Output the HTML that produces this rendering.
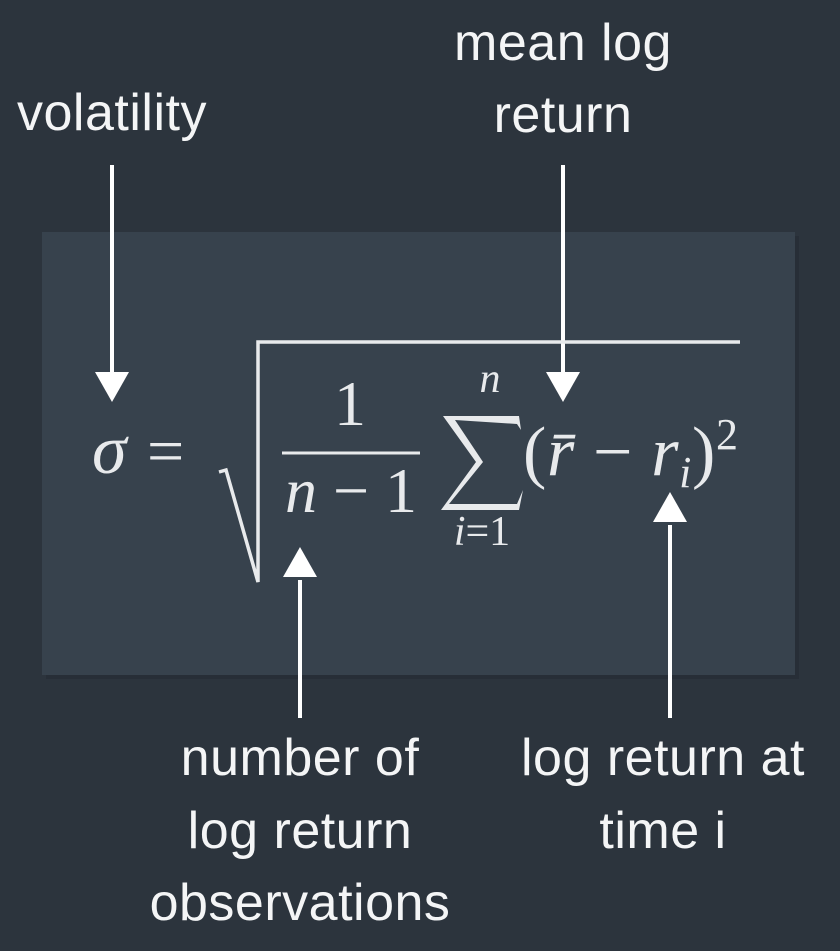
<!DOCTYPE html>
<html><head><meta charset="utf-8"><style>
html,body{margin:0;padding:0;background:#2c343d;}
svg{display:block;}
.lbl{font-family:"Liberation Sans",sans-serif;font-size:52px;fill:#f4f5f6;text-anchor:middle;letter-spacing:0.5px;}
.m{font-family:"Liberation Serif","DejaVu Serif",serif;fill:#e8eaec;}
</style></head><body>
<svg width="840" height="951" viewBox="0 0 840 951">
<rect x="0" y="0" width="840" height="951" fill="#2c343d"/>
<rect x="46" y="236" width="753" height="443" fill="#252c33" opacity="0.6"/>
<rect x="42" y="232" width="753" height="443" fill="#37424d"/>

<g>
<text class="lbl" x="112" y="130">volatility</text>
<text class="lbl" x="563" y="60">mean log</text>
<text class="lbl" x="563" y="132">return</text>
<text class="lbl" x="300" y="775">number of</text>
<text class="lbl" x="300" y="848">log return</text>
<text class="lbl" x="300" y="920">observations</text>
<text class="lbl" x="663" y="775">log return at</text>
<text class="lbl" x="663" y="848">time i</text>
</g>

<g fill="#fff" stroke="#fff">
<line x1="112" y1="165" x2="112" y2="375" stroke-width="4"/>
<polygon points="95,372 129,372 112,402" stroke="none"/>
<line x1="563" y1="165" x2="563" y2="375" stroke-width="4"/>
<polygon points="546,372 580,372 563,402" stroke="none"/>
<line x1="300" y1="580" x2="300" y2="718" stroke-width="4"/>
<polygon points="283,577 317,577 300,547" stroke="none"/>
<line x1="670" y1="525" x2="670" y2="718" stroke-width="4"/>
<polygon points="653,522 687,522 670,492" stroke="none"/>
</g>

<g>
<text class="m" x="92" y="473" font-size="70" font-style="italic">σ</text>
<text class="m" x="147" y="473" font-size="66">=</text>
<polyline points="219,472 226,470 258,582 258,342 740,342" fill="none" stroke="#e8eaec" stroke-width="3.5"/>
<text class="m" x="350" y="425" font-size="64" text-anchor="middle">1</text>
<line x1="282" y1="453" x2="420" y2="453" stroke="#e8eaec" stroke-width="3"/>
<text class="m" x="351" y="512" font-size="64" text-anchor="middle"><tspan font-style="italic">n</tspan> − 1</text>
<path d="M443,416 L519,416 L521,430 L517,424 L455,420 L483,462 L449,504 L517,504 L523,490 L519,510 L441,510 L476,462 Z" fill="#e8eaec"/>
<text class="m" x="490" y="392" font-size="42" text-anchor="middle" font-style="italic">n</text>
<text class="m" x="482" y="545" font-size="42" text-anchor="middle"><tspan font-style="italic">i</tspan>=1</text>
<text class="m" x="523" y="475" font-size="70" textLength="215">(<tspan font-style="italic">r̄</tspan> − <tspan font-style="italic">r</tspan><tspan font-size="44" font-style="italic" dy="12">i</tspan><tspan dy="-12">)</tspan><tspan font-size="44" dy="-26">2</tspan></text>
</g>
</svg>
</body></html>
